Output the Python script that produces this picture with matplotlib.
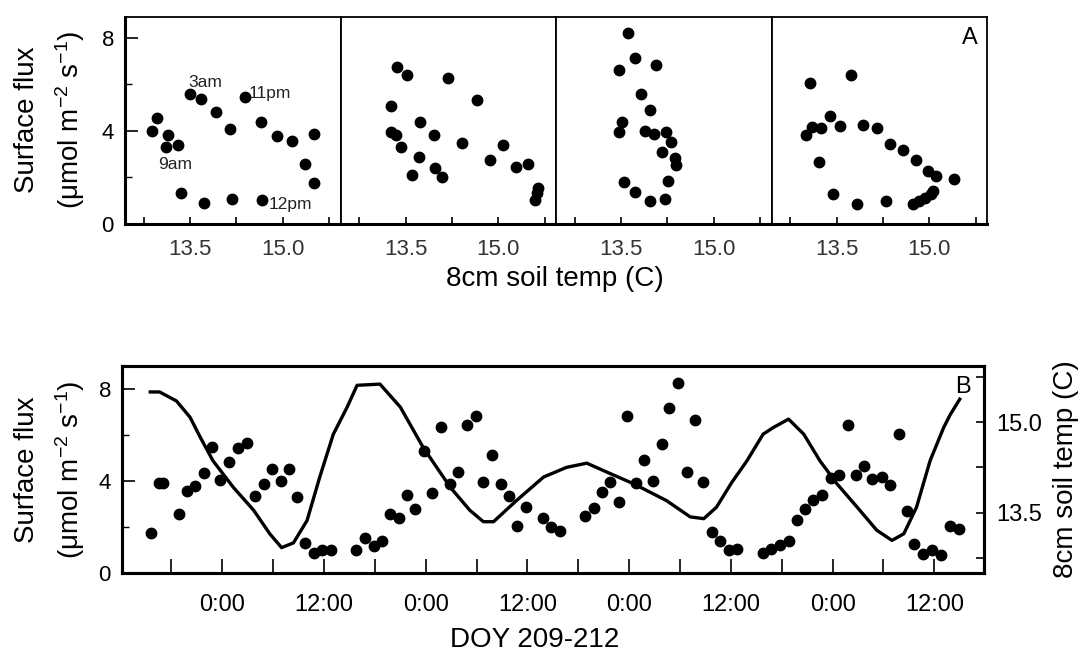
import numpy as np
import matplotlib
matplotlib.use("Agg")
import matplotlib.pyplot as plt

plt.rcParams['font.family'] = ['Liberation Sans', 'DejaVu Sans']
plt.rcParams['mathtext.default'] = 'regular'

# panel A: flux vs 8cm soil temp, one panel per day
day1_temp = [12.89, 12.96, 13.14, 13.11, 13.31, 13.50, 13.68, 13.92, 14.14, 14.39,
             14.64, 14.91, 15.15, 15.51, 15.35, 15.51, 13.36, 13.73, 14.18, 14.67]
day1_flux = [4.00, 4.55, 3.84, 3.33, 3.38, 5.58, 5.39, 4.80, 4.07, 5.45,
             4.37, 3.80, 3.57, 3.88, 2.58, 1.78, 1.32, 0.92, 1.06, 1.05]

day2_temp = [13.36, 13.53, 14.18, 13.26, 14.65, 13.73, 13.26, 13.34, 13.96, 14.42, 15.07,
             13.42, 13.71, 14.87, 13.98, 14.09, 13.60, 15.28, 15.47, 15.64, 15.62, 15.59]
day2_flux = [6.77, 6.39, 6.29, 5.09, 5.32, 4.37, 3.96, 3.83, 3.84, 3.47, 3.38,
             3.33, 2.87, 2.77, 2.42, 2.01, 2.11, 2.44, 2.59, 1.53, 1.32, 1.03]

day3_temp = [13.62, 13.73, 14.07, 13.46, 13.82, 13.97, 13.51, 13.46, 13.88, 14.04,
             14.23, 14.31, 14.16, 14.37, 14.39, 14.26, 13.55, 13.73, 13.97, 14.21]
day3_flux = [8.23, 7.14, 6.82, 6.61, 5.59, 4.92, 4.40, 3.94, 4.01, 3.88,
             3.96, 3.51, 3.11, 2.85, 2.54, 1.86, 1.79, 1.39, 1.00, 1.06]

day4_temp = [13.07, 13.74, 13.39, 13.11, 13.25, 13.01, 13.56, 13.93, 14.15, 14.36, 14.58, 14.79,
             14.97, 15.10, 15.39, 13.21, 13.45, 13.83, 14.30, 14.73, 14.83, 14.93, 15.02, 15.05]
day4_flux = [6.05, 6.42, 4.66, 4.16, 4.12, 3.82, 4.23, 4.26, 4.14, 3.43, 3.20, 2.77,
             2.29, 2.06, 1.94, 2.68, 1.29, 0.86, 0.99, 0.87, 0.99, 1.13, 1.28, 1.43]

# panel B: time series, hours from 0:00 of DOY 210
flux_hours = [-8.41, -7.43, -7.03, -5.07, -4.20, -3.22, -2.20, -1.18, -0.27, 0.75,
              1.82, 2.91, 3.82, 4.88, 5.90, 6.89, 7.87, 8.85, 9.76, 10.78,
              11.76, 12.79, 15.81, 16.80, 17.86, 18.88, 19.79, 20.81, 21.83, 22.74,
              23.80, 24.78, 25.80, 26.86, 27.85, 28.83, 29.93, 30.80, 31.78, 32.84,
              33.82, 34.80, 35.87, 37.80, 38.82, 39.88, 42.83, 43.85, 44.80, 45.78,
              46.77, 47.78, 48.81, 49.79, 50.85, 51.84, 52.74, 53.76, 54.79, 55.77,
              56.71, 57.78, 58.76, 59.74, 60.76, 63.76, 64.74, 65.76, 66.82, 67.80,
              68.78, 69.73, 70.79, 71.78, 72.80, 73.82, 74.73, 75.71, 76.69, 77.80,
              78.81, 79.84, 80.74, 81.61, 82.63, 83.76, 84.79, 85.82, 86.88]
flux_values = [1.75, 3.90, 3.90, 2.57, 3.55, 3.80, 4.36, 5.46, 4.04, 4.84,
               5.43, 5.64, 3.36, 3.87, 4.54, 4.01, 4.54, 3.29, 1.29, 0.87,
               1.00, 1.00, 1.00, 1.51, 1.19, 1.41, 2.57, 2.41, 3.39, 2.77,
               5.30, 3.48, 6.33, 3.85, 4.39, 6.42, 6.81, 3.94, 5.12, 3.85,
               3.33, 2.06, 2.86, 2.41, 1.99, 1.84, 2.48, 2.81, 3.51, 3.94,
               3.10, 6.84, 3.90, 4.93, 4.00, 5.61, 7.17, 8.27, 4.39, 6.65,
               3.94, 1.78, 1.38, 0.99, 1.03, 0.86, 1.06, 1.20, 1.39, 2.29,
               2.78, 3.19, 3.41, 4.14, 4.25, 6.43, 4.25, 4.67, 4.10, 4.19,
               3.83, 6.06, 2.70, 1.26, 0.81, 1.00, 0.78, 2.04, 1.90]

temp_hours = [-8.5, -7.4, -5.4, -3.8, -2.6, -1.1, 1.3, 3.7, 5.6, 7.0,
              8.4, 10.0, 11.5, 13.1, 14.7, 15.9, 18.6, 21.0, 23.7, 26.9,
              29.2, 30.8, 32.0, 34.7, 37.9, 40.6, 43.0, 45.4, 48.5, 52.4,
              55.2, 56.8, 58.3, 60.1, 61.9, 63.8, 65.0, 66.8, 68.6, 70.5,
              72.5, 74.9, 77.2, 79.0, 80.4, 81.9, 83.5, 85.1, 85.9, 87.0]
temp_values = [15.50, 15.50, 15.35, 15.08, 14.75, 14.36, 13.92, 13.54, 13.15, 12.92,
               13.00, 13.37, 14.09, 14.80, 15.24, 15.61, 15.63, 15.25, 14.58, 13.92,
               13.54, 13.35, 13.35, 13.70, 14.09, 14.25, 14.32, 14.17, 13.98, 13.70,
               13.43, 13.40, 13.59, 14.00, 14.36, 14.80, 14.91, 15.05, 14.80, 14.36,
               13.98, 13.59, 13.21, 13.04, 13.15, 13.59, 14.36, 14.91, 15.13, 15.38]

labels_text = ['3am', '11pm', '9am', '12pm']
labels_x = [13.48, 14.45, 12.98, 14.77]
labels_y = [6.1, 5.63, 2.54, 0.82]

W, H = 1082, 656
fig = plt.figure(figsize=(W / 100, H / 100), dpi=100)


def box(x0, y0, x1, y1):
    return [x0 / W, 1 - y1 / H, (x1 - x0) / W, (y1 - y0) / H]


days = [(day1_temp, day1_flux), (day2_temp, day2_flux),
        (day3_temp, day3_flux), (day4_temp, day4_flux)]
edges = np.linspace(125, 987, 5)
for i, (t, f) in enumerate(days):
    ax = fig.add_axes(box(edges[i], 17, edges[i + 1], 224))
    ax.plot(t, f, 'o', color='black', ms=7.5, mec='black')
    ax.set_xlim(12.45, 15.93)
    ax.set_ylim(0, 8.9)
    ax.set_xticks([12.75, 13.5, 14.25, 15.0, 15.75])
    ax.set_xticklabels(['', '13.5', '', '15.0', ''])
    ax.tick_params(axis='x', direction='in', length=5, width=1.2, pad=11,
                   labelsize=16, labelcolor='#333333')
    for s in ax.spines.values():
        s.set_linewidth(1.3)
    ax.spines['bottom'].set_linewidth(2.2)
    if i == 0:
        ax.set_yticks([0, 4, 8])
        ax.set_yticks([2, 6], minor=True)
        ax.tick_params(axis='y', which='major', direction='in', length=9, width=1.2,
                       pad=8, labelsize=16)
        ax.tick_params(axis='y', which='minor', direction='in', length=5, width=1.0)
        ax.spines['left'].set_linewidth(2.2)
        for txt, lx, ly in zip(labels_text, labels_x, labels_y):
            ax.text(lx, ly, txt, fontsize=12.5, va='center', ha='left', color='#222222')
    else:
        ax.set_yticks([])
    if i == 3:
        ax.text(0.955, 0.9, 'A', transform=ax.transAxes, fontsize=17,
                ha='right', va='center')

fig.text(555 / W, 1 - 279 / H, '8cm soil temp (C)', fontsize=20, ha='center', va='center')

# panel B
axb = fig.add_axes(box(122, 366, 984, 573))
axb.plot(flux_hours, flux_values, 'o', color='black', ms=7.5, mec='black')
axb.set_xlim(-11.83, 89.86)
axb.set_ylim(0, 9)
axb.set_yticks([0, 4, 8])
axb.set_yticks([2, 6], minor=True)
xt = np.arange(-6, 90, 6)
axb.set_xticks(xt)
axb.set_xticklabels(['0:00' if h % 24 == 0 else ('12:00' if h % 24 == 12 else '') for h in xt])
axb.tick_params(axis='x', direction='in', length=10, width=1.2, pad=15, labelsize=17)
axb.tick_params(axis='y', which='major', direction='in', length=9, width=1.2, pad=8, labelsize=16)
axb.tick_params(axis='y', which='minor', direction='in', length=5, width=1.0)
for s in axb.spines.values():
    s.set_linewidth(2.2)

axt = axb.twinx()
axt.plot(temp_hours, temp_values, '-', color='black', lw=2.4)
axt.set_ylim(12.5, 15.93)
axt.set_yticks([12.75, 13.5, 14.25, 15.0, 15.75])
axt.set_yticklabels(['', '13.5', '', '15.0', ''])
axt.tick_params(axis='y', direction='in', length=6, width=1.2, pad=9, labelsize=17)
for s in axt.spines.values():
    s.set_linewidth(2.2)
axb.text(0.985, 0.9, 'B', transform=axb.transAxes, fontsize=17, ha='right', va='center')

fig.text(535 / W, 1 - 640 / H, 'DOY 209-212', fontsize=20, ha='center', va='center')

# y labels
for yc in [120, 470]:
    fig.text(27 / W, 1 - yc / H, 'Surface flux', fontsize=20, rotation=90,
             ha='center', va='center')
    fig.text(70 / W, 1 - yc / H, r'($\mu$mol m$^{-2}$ s$^{-1}$)', fontsize=20,
             rotation=90, ha='center', va='center')
fig.text(1066 / W, 1 - 469 / H, '8cm soil temp (C)', fontsize=20, rotation=90,
         ha='center', va='center')

fig.savefig('out.png', dpi=100)
